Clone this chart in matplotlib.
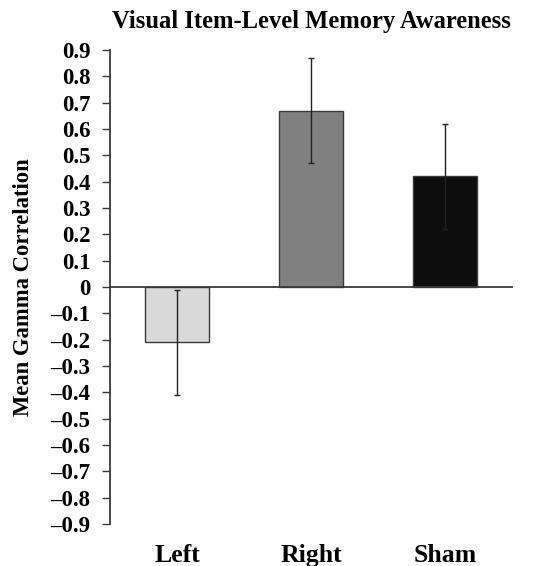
import matplotlib
matplotlib.use("Agg")
import matplotlib.pyplot as plt
from matplotlib.ticker import FixedLocator, FuncFormatter

plt.rcParams['font.family'] = ['Liberation Serif', 'DejaVu Serif']
plt.rcParams['font.weight'] = 'bold'

# Data
conditions = ["Left", "Right", "Sham"]
mean_gamma = [-0.21, 0.67, 0.42]
error = [0.20, 0.20, 0.20]
bar_colors = ["#d9d9d9", "#808080", "#0d0d0d"]
ytick_values = [round(-0.9 + 0.1 * i, 1) for i in range(19)]

fig = plt.figure(figsize=(5.43, 5.66), dpi=100)
ax = fig.add_axes([0.2026, 0.0742, 0.7404, 0.8375])

x = list(range(len(conditions)))
ax.bar(x, mean_gamma, width=0.48, color=bar_colors, edgecolor="#3a3a3a",
       linewidth=1.0, zorder=2)
ax.errorbar(x, mean_gamma, yerr=error, fmt="none", ecolor="#222222",
            elinewidth=1.0, capsize=2.5, capthick=1.0, zorder=3)

ax.set_xlim(-0.5, 2.5)
ax.set_ylim(-0.9, 0.9)

for side in ("top", "right"):
    ax.spines[side].set_visible(False)
ax.spines["bottom"].set_position(("data", 0))
for side in ("bottom", "left"):
    ax.spines[side].set_color("#3a3a3a")
    ax.spines[side].set_linewidth(1.3)

ax.yaxis.set_major_locator(FixedLocator(ytick_values))
ax.yaxis.set_major_formatter(FuncFormatter(
    lambda v, p: "0" if abs(v) < 1e-9 else ("\u2013%.1f" % abs(v) if v < 0 else "%.1f" % v)))
ax.tick_params(axis="y", direction="out", length=6, width=1.0, color="#3a3a3a",
               pad=8, labelsize=16.5)
ax.set_xticks([])

# Category names below the plot area
for xi, name in zip(x, conditions):
    ax.text(xi, -1.045, name, ha="center", va="baseline",
            fontsize=18.5, fontweight="bold", clip_on=False)

ax.set_ylabel("Mean Gamma Correlation", fontsize=16.3, fontweight="bold", labelpad=12)
ax.set_title("Visual Item-Level Memory Awareness", fontsize=17.7, fontweight="bold", pad=15.5)

fig.savefig("out.png", dpi=100)
